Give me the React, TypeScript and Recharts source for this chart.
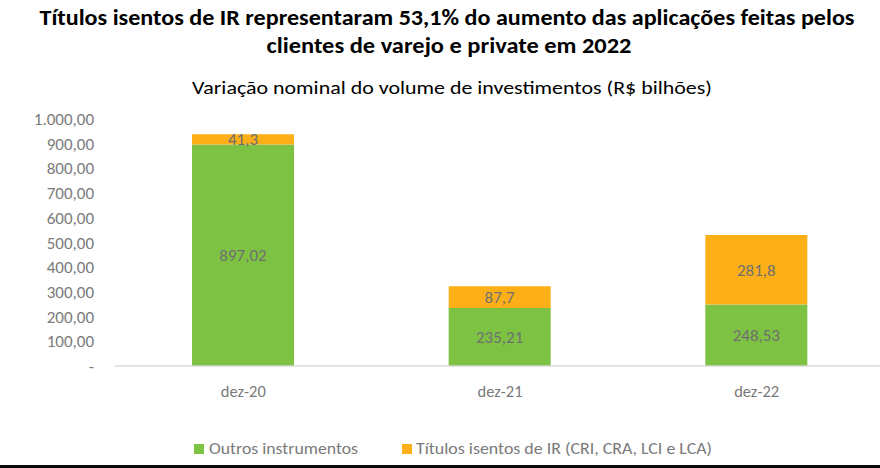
import React from "react";
import { BarChart, Bar, XAxis, YAxis, LabelList } from "recharts";

const categories = ["dez-20", "dez-21", "dez-22"];
const outrosInstrumentos = [897.02, 235.21, 248.53];
const titulosIsentos = [41.3, 87.7, 281.8];
const yTicks = [0, 100, 200, 300, 400, 500, 600, 700, 800, 900, 1000];

const seriesNames = ["Outros instrumentos", "Títulos isentos de IR (CRI, CRA, LCI e LCA)"];
const seriesColors = ["#7DC243", "#FDAF17"];

const titleLines = [
  "Títulos isentos de IR representaram 53,1% do aumento das aplicações feitas pelos",
  "clientes de varejo e private em 2022",
];
const subtitle = "Variação nominal do volume de investimentos (R$ bilhões)";

const data = categories.map((c, i) => ({
  cat: c,
  outros: outrosInstrumentos[i],
  isentos: titulosIsentos[i],
}));

const FONT = "Carlito, 'Liberation Sans Narrow', 'Open Sans', sans-serif";
const GRAY = "#7a7a7a";

const fmtTick = (v: number) =>
  v === 0
    ? "-"
    : v.toLocaleString("pt-BR", { minimumFractionDigits: 2, maximumFractionDigits: 2 });
const fmtLabel = (v: any) => String(v).replace(".", ",");

export default function App() {
  return (
    <div style={{ position: "absolute", left: 0, top: 0, width: 880, height: 468, background: "#fff", overflow: "hidden" }}>
      <BarChart
        width={880}
        height={468}
        data={data}
        margin={{ top: 119, right: -5, bottom: 72, left: 0 }}
        barSize={102}
        style={{ fontFamily: FONT }}
      >
        <XAxis
          dataKey="cat"
          height={30}
          axisLine={{ stroke: "#d9d9d9", strokeWidth: 1.5 }}
          tickLine={false}
          tickMargin={13}
          tick={{ fill: GRAY, fontSize: 16.5, fontFamily: FONT }}
        />
        <YAxis
          width={115}
          domain={[0, 1000]}
          ticks={yTicks}
          interval={0}
          axisLine={false}
          tickLine={false}
          tickMargin={15}
          tickFormatter={fmtTick}
          tick={{ fill: GRAY, fontSize: 17, fontFamily: FONT }}
        />
        <Bar dataKey="outros" stackId="a" fill={seriesColors[0]} isAnimationActive={false}>
          <LabelList dataKey="outros" position="center" formatter={fmtLabel} fill="#707070" fontSize={17} fontFamily={FONT} />
        </Bar>
        <Bar dataKey="isentos" stackId="a" fill={seriesColors[1]} isAnimationActive={false}>
          <LabelList dataKey="isentos" position="center" formatter={fmtLabel} fill="#707070" fontSize={17} fontFamily={FONT} />
        </Bar>
      </BarChart>
      <svg width={880} height={468} style={{ position: "absolute", left: 0, top: 0, pointerEvents: "none" }}>
        <text x={447} y={25} textAnchor="middle" fontFamily={FONT} fontWeight="bold" fontSize={23} fill="#000" textLength={815} lengthAdjust="spacingAndGlyphs">
          {titleLines[0]}
        </text>
        <text x={449} y={53} textAnchor="middle" fontFamily={FONT} fontWeight="bold" fontSize={23} fill="#000" textLength={365} lengthAdjust="spacingAndGlyphs">
          {titleLines[1]}
        </text>
        <text x={452} y={94} textAnchor="middle" fontFamily={FONT} fontSize={19} fill="#000" textLength={520} lengthAdjust="spacingAndGlyphs">
          {subtitle}
        </text>
        <rect x={194} y={444} width={10} height={10} fill={seriesColors[0]} />
        <text x={209} y={454} fontFamily={FONT} fontSize={17} fill={GRAY} textLength={149} lengthAdjust="spacingAndGlyphs">
          {seriesNames[0]}
        </text>
        <rect x={402} y={444} width={10} height={10} fill={seriesColors[1]} />
        <text x={416} y={454} fontFamily={FONT} fontSize={17} fill={GRAY} textLength={296} lengthAdjust="spacingAndGlyphs">
          {seriesNames[1]}
        </text>
      </svg>
      <div style={{ position: "absolute", left: 0, top: 465, width: 880, height: 3, background: "#0a0a0a" }} />
    </div>
  );
}
